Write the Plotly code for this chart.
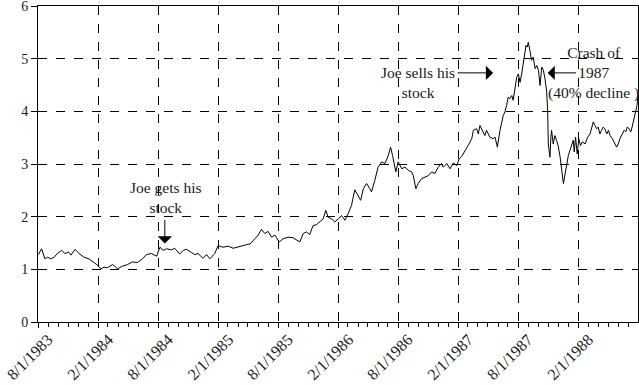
import pandas as pd
import plotly.graph_objects as go

# ---- data ----
start_date = "1983-08-01"
day_offsets = [
    1, 11, 21, 29, 39, 49, 59, 72, 82, 93, 100, 113, 125, 140, 155, 166, 181, 191, 201, 211,
    227, 237, 242, 257, 272, 287, 303, 318,
    330, 345, 361, 371, 381, 391, 406, 416, 431, 442, 452, 467, 477, 487, 502, 513, 523, 538,
    548, 563, 579, 594, 609, 624, 635,
    645, 660, 670, 680, 690, 700, 711, 721, 734, 746, 761, 776, 787, 797, 807, 817, 827, 837,
    848, 858, 868, 876, 883, 893, 903, 914, 924,
    929, 934, 944, 954, 964, 975, 982, 990, 1000, 1010, 1015, 1025, 1035, 1046, 1056, 1066,
    1073, 1079, 1084, 1089, 1096, 1107, 1117, 1127, 1137, 1142, 1150, 1157, 1167, 1177, 1188,
    1198, 1208, 1218,
    1228, 1233, 1244, 1254, 1264, 1274, 1282, 1289, 1299, 1309, 1320, 1325, 1335, 1340, 1345,
    1355, 1360, 1365, 1375, 1385, 1391, 1398, 1406, 1416, 1421, 1426, 1431, 1436, 1442, 1446,
    1452, 1457, 1462, 1467, 1472, 1477, 1482, 1485, 1489, 1492, 1497, 1502, 1507,
    1513, 1518, 1523, 1528, 1533, 1538, 1543, 1548, 1551, 1553, 1558, 1561, 1563, 1568, 1573,
    1578, 1583, 1589, 1594, 1599, 1604, 1609, 1614, 1619, 1624, 1629, 1632, 1636, 1641, 1646,
    1651, 1657, 1665, 1673, 1680, 1685, 1690, 1695, 1700, 1705, 1710, 1715, 1720, 1725, 1731,
    1736, 1741, 1748, 1756, 1761, 1766, 1771, 1778, 1784, 1789, 1793, 1799, 1804, 1808, 1813,
    1818, 1823, 1826,
]
prices = [
    1.28, 1.39, 1.20, 1.23, 1.20, 1.23, 1.30, 1.36, 1.30, 1.33, 1.27, 1.38, 1.30, 1.23, 1.20,
    1.15, 1.08, 1.01, 1.04, 1.03, 1.09, 1.04, 1.01, 1.06, 1.09, 1.14, 1.13, 1.20,
    1.28, 1.30, 1.25, 1.42, 1.36, 1.39, 1.37, 1.40, 1.29, 1.36, 1.38, 1.32, 1.28, 1.30, 1.21,
    1.28, 1.20, 1.30, 1.45, 1.42, 1.44, 1.40, 1.42, 1.45, 1.47,
    1.48, 1.58, 1.65, 1.76, 1.68, 1.72, 1.61, 1.65, 1.52, 1.58, 1.61, 1.60, 1.55, 1.52, 1.68,
    1.71, 1.66, 1.83, 1.85, 1.91, 1.96, 2.12, 1.99, 1.96, 1.90, 1.96, 2.02,
    1.98, 1.93, 2.06, 2.21, 2.51, 2.40, 2.31, 2.53, 2.63, 2.53, 2.47, 2.69, 2.94, 3.04, 3.01,
    3.16, 3.32, 3.16, 3.01, 2.85, 3.04, 2.91, 2.94, 2.88, 2.85, 2.78, 2.53, 2.63, 2.72, 2.75,
    2.78, 2.85, 2.82, 2.94,
    3.01, 2.94, 3.01, 2.91, 3.02, 2.97, 3.10, 3.14, 3.26, 3.35, 3.48, 3.64, 3.67, 3.57, 3.73,
    3.61, 3.54, 3.64, 3.51, 3.48, 3.51, 3.32, 3.64, 3.92, 3.99, 4.11, 4.27, 4.24, 4.30, 4.21,
    4.43, 4.65, 4.71, 4.55, 4.71, 4.93, 5.09, 5.25, 5.22, 5.31, 5.16, 4.97, 5.03,
    4.81, 4.87, 4.78, 4.49, 4.84, 4.78, 4.62, 4.37, 4.02, 3.38, 3.13, 3.51, 3.64, 3.38, 3.54,
    3.45, 3.35, 3.13, 2.91, 2.63, 2.81, 3.01, 3.16, 3.26, 3.35, 3.45, 3.23, 3.51, 3.19, 3.48,
    3.35, 3.42, 3.38, 3.51, 3.57, 3.70, 3.80, 3.73, 3.67, 3.70, 3.57, 3.64, 3.70, 3.67, 3.57,
    3.64, 3.54, 3.48, 3.38, 3.32, 3.38, 3.48, 3.57, 3.64, 3.61, 3.70, 3.67, 3.61, 3.70, 3.83,
    3.99, 4.11, 4.30,
]
tick_dates = ["1983-08-01", "1984-02-01", "1984-08-01", "1985-02-01", "1985-08-01",
              "1986-02-01", "1986-08-01", "1987-02-01", "1987-08-01", "1988-02-01"]
tick_labels = ["8/1/1983", "2/1/1984", "8/1/1984", "2/1/1985", "8/1/1985",
               "2/1/1986", "8/1/1986", "2/1/1987", "8/1/1987", "2/1/1988"]
y_ticks = [0, 1, 2, 3, 4, 5, 6]

dates = pd.Timestamp(start_date) + pd.to_timedelta(day_offsets, unit="D")

FONT = "Liberation Serif"
TXT = "#1a1a1a"

fig = go.Figure()
fig.add_trace(go.Scatter(x=dates, y=prices, mode="lines",
                         line=dict(color="black", width=1), showlegend=False))

# arrows (tip in data coords, tail offset in pixels)
arrows = [
    dict(x="1984-08-21", y=1.49, ax=0, ay=-25),
    dict(x="1987-05-17", y=4.73, ax=-37, ay=0),
    dict(x="1987-10-30", y=4.73, ax=30, ay=0),
]
for a in arrows:
    fig.add_annotation(x=a["x"], y=a["y"], ax=a["ax"], ay=a["ay"], text="",
                       showarrow=True, arrowhead=1, arrowsize=2.4, arrowwidth=1,
                       arrowcolor="black", standoff=0, startstandoff=0)

texts = [
    dict(x=0.2117, y=0.3925, text="Joe gets his<br>stock"),
    dict(x=0.6333, y=0.7576, text="Joe sells his<br>stock"),
    dict(x=0.925, y=0.789, text="Crash of<br>1987<br>(40% decline )"),
]
for t in texts:
    fig.add_annotation(x=t["x"], y=t["y"], xref="paper", yref="paper", text=t["text"],
                       showarrow=False, xanchor="center", yanchor="middle",
                       font=dict(family=FONT, size=15.5, color=TXT), align="center")

fig.update_layout(
    width=639, height=385,
    margin=dict(l=38, r=1, t=6, b=63, autoexpand=False),
    paper_bgcolor="white", plot_bgcolor="white",
    font=dict(family=FONT, size=15, color=TXT),
    xaxis=dict(
        range=["1983-08-01", "1988-07-31"], type="date", automargin=False,
        tickmode="array", tickvals=tick_dates, ticktext=tick_labels,
        tickangle=-45, ticks="outside", ticklen=5, tickcolor="black",
        ticklabeloverflow="allow", ticklabelshift=10, ticklabelstandoff=-4,
        showline=True, linecolor="black", linewidth=1, mirror=True,
        showgrid=True, gridcolor="black", gridwidth=1, griddash="dash",
        zeroline=False,
        minor=dict(tickmode="linear", tick0="1983-08-01", dtick="M1",
                   ticks="outside", ticklen=4, tickcolor="black", showgrid=False),
        tickfont=dict(family=FONT, size=16, color=TXT),
    ),
    yaxis=dict(
        range=[0, 6], tickmode="array", tickvals=y_ticks, automargin=False,
        ticks="outside", ticklen=6, tickcolor="black",
        ticklabeloverflow="allow",
        showline=True, linecolor="black", linewidth=1, mirror=True,
        showgrid=True, gridcolor="black", gridwidth=1, griddash="dash",
        zeroline=False,
        tickfont=dict(family=FONT, size=14, color=TXT),
    ),
)

fig.write_html("out.html")
